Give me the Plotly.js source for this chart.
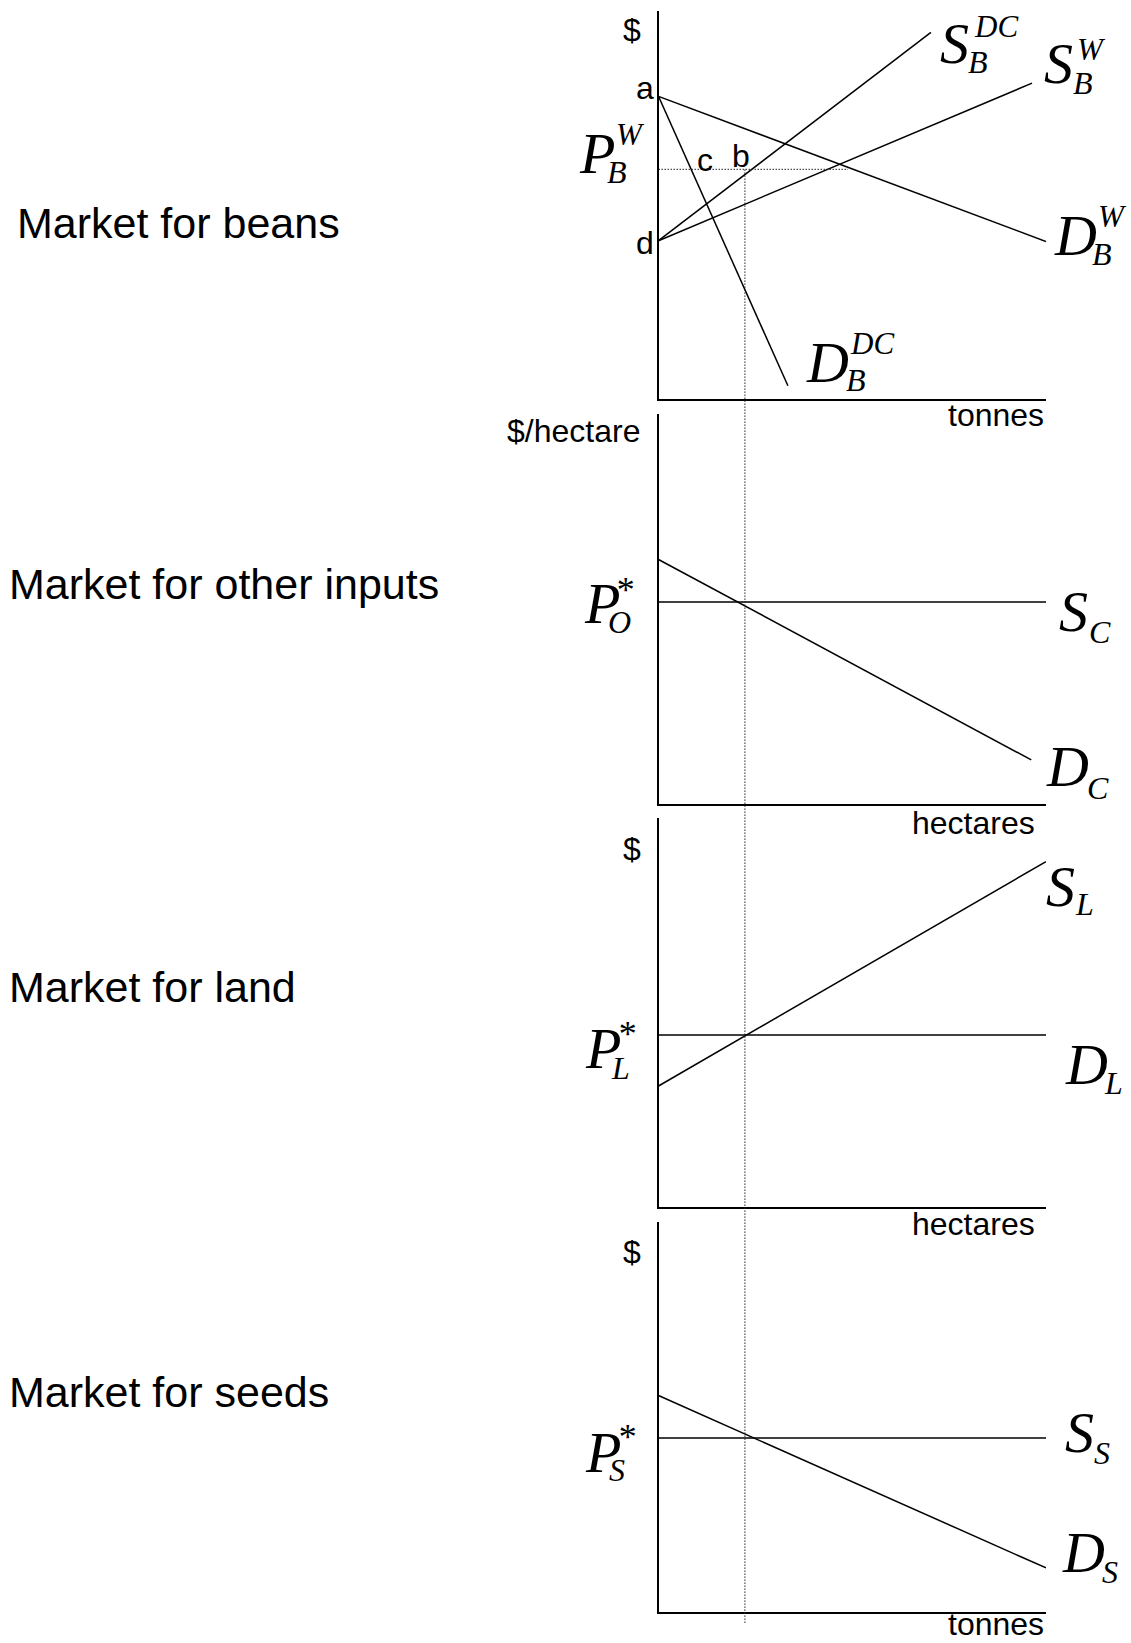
<!DOCTYPE html>
<html>
<head>
<meta charset="utf-8">
<script src="https://cdn.plot.ly/plotly-3.0.1.min.js"></script>
<style>html,body{margin:0;padding:0;background:#fff;}</style>
</head>
<body>
<div id="chart" style="width:1131px;height:1643px;"></div>
<script>
// ---------------- DATA (axis units 0..100 in each panel) ----------------
// Panel 1: market for beans
const beansDW_x  = [0, 100];   const beansDW_y  = [78, 40.6];   // D_B^W
const beansDDC_x = [0, 33.4];  const beansDDC_y = [78, 3.4];    // D_B^DC
const beansSDC_x = [0, 70.3];  const beansSDC_y = [40.8, 94.5]; // S_B^DC
const beansSW_x  = [0, 96.4];  const beansSW_y  = [40.8, 81.4]; // S_B^W
const priceBW = 59.2;          // P_B^W
const priceBW_x = [0, 48.9];   // extent of dotted price line
const qStar = 22.3;            // common quantity (dotted vertical)
// Panel 2: market for other inputs
const otherS_x = [0, 100];     const otherS_y = [51.8, 51.8];   // S_C
const otherD_x = [0, 96.2];    const otherD_y = [62.7, 11.3];   // D_C
// Panel 3: market for land
const landD_x = [0, 100];      const landD_y = [44.2, 44.2];    // D_L
const landS_x = [0, 100];      const landS_y = [31.1, 88.8];    // S_L
// Panel 4: market for seeds
const seedS_x = [0, 100];      const seedS_y = [44.6, 44.6];    // S_S
const seedD_x = [0, 100];      const seedD_y = [55.5, 11.3];    // D_S

const panelTitles = ["Market for beans", "Market for other inputs", "Market for land", "Market for seeds"];
const yTitles = ["$", "$/hectare", "$", "$"];
const xTitles = ["tonnes", "hectares", "hectares", "tonnes"];

// ---------------- LAYOUT ----------------
const W = 1131, H = 1643;
const px = v => v / W;
const py = v => 1 - v / H;
const SANS = "Liberation Sans, Arial, sans-serif";
const SERIF = "Liberation Serif, Times New Roman, serif";
const BIG = 58, SUP = 31, SUB = 32, STAR = 36, LBL = 32, TITLE = 43;

function axX(anchor) {
  return {domain: [px(658.5), px(1046)], range: [0, 100], anchor: anchor,
    showline: true, linecolor: '#000', linewidth: 2, showgrid: false, zeroline: false,
    showticklabels: false, ticks: '', fixedrange: true};
}
function axY(anchor, top, bottom) {
  return {domain: [py(bottom), py(top)], range: [0, 100], anchor: anchor,
    showline: true, linecolor: '#000', linewidth: 2, showgrid: false, zeroline: false,
    showticklabels: false, ticks: '', fixedrange: true};
}

const layout = {
  width: W, height: H, margin: {l: 0, r: 0, t: 0, b: 0},
  paper_bgcolor: '#fff', plot_bgcolor: 'rgba(0,0,0,0)', showlegend: false,
  xaxis: axX('y'),   yaxis: axY('x', 11, 399),
  xaxis2: axX('y2'), yaxis2: axY('x2', 414, 804),
  xaxis3: axX('y3'), yaxis3: axY('x3', 818, 1207),
  xaxis4: axX('y4'), yaxis4: axY('x4', 1222, 1612),
  annotations: [], shapes: []
};

function toPaperY(ax, v) {
  return ax.domain[0] + (v - ax.range[0]) / (ax.range[1] - ax.range[0]) * (ax.domain[1] - ax.domain[0]);
}

// dotted vertical through all four panels
layout.shapes.push({type: 'line', xref: 'x', yref: 'paper', x0: qStar, x1: qStar,
  y0: toPaperY(layout.yaxis4, -2.8), y1: toPaperY(layout.yaxis, priceBW),
  line: {color: '#222', width: 1, dash: '1.5px,1.5px'}});

// ---------------- TRACES ----------------
const solid = {color: '#000', width: 1.5};
function line(x, y, xa, ya, ln) {
  return {type: 'scatter', mode: 'lines', x: x, y: y, xaxis: xa, yaxis: ya,
    line: ln || solid, hoverinfo: 'skip', cliponaxis: false};
}
const traces = [
  line(beansDW_x, beansDW_y, 'x', 'y'),
  line(beansDDC_x, beansDDC_y, 'x', 'y'),
  line(beansSDC_x, beansSDC_y, 'x', 'y'),
  line(beansSW_x, beansSW_y, 'x', 'y'),
  line(priceBW_x, [priceBW, priceBW], 'x', 'y', {color: '#222', width: 1, dash: '1.5px,1.5px'}),
  line(otherS_x, otherS_y, 'x2', 'y2'),
  line(otherD_x, otherD_y, 'x2', 'y2'),
  line(landD_x, landD_y, 'x3', 'y3'),
  line(landS_x, landS_y, 'x3', 'y3'),
  line(seedS_x, seedS_y, 'x4', 'y4'),
  line(seedD_x, seedD_y, 'x4', 'y4')
];

// ---------------- ANNOTATIONS ----------------
function txt(text, x, y, size, family, anchor) {
  layout.annotations.push({xref: 'paper', yref: 'paper', x: px(x), y: py(y),
    xanchor: anchor || 'left', yanchor: 'middle', text: text, showarrow: false,
    borderpad: 0, font: {family: family, size: size, color: '#000'}});
}
function it(t) { return '<i>' + t + '</i>'; }

// panel titles (left)
txt(panelTitles[0], 16, 223, TITLE, SANS);
txt(panelTitles[1], 8, 584, TITLE, SANS);
txt(panelTitles[2], 8, 987, TITLE, SANS);
txt(panelTitles[3], 8, 1392, TITLE, SANS);

// axis titles
txt(yTitles[0], 632, 30, LBL, SANS, 'center');
txt(yTitles[1], 641, 431, LBL, SANS, 'right');
txt(yTitles[2], 632, 849, LBL, SANS, 'center');
txt(yTitles[3], 632, 1252, LBL, SANS, 'center');
txt(xTitles[0], 1045, 415, LBL, SANS, 'right');
txt(xTitles[1], 1036, 823, LBL, SANS, 'right');
txt(xTitles[2], 1036, 1224, LBL, SANS, 'right');
txt(xTitles[3], 1045, 1624, LBL, SANS, 'right');

// point letters
txt('a', 645, 88, LBL, SANS, 'center');
txt('d', 645, 243, LBL, SANS, 'center');
txt('c', 705, 160, LBL, SANS, 'center');
txt('b', 741, 156, LBL, SANS, 'center');

// italic curve / price labels: base, superscript, subscript
function sym(base, bx, by, sup, sx, sy, sub, ux, uy) {
  txt(it(base), bx, by, BIG, SERIF);
  if (sup) txt(it(sup), sx, sy, sup === '*' ? STAR : SUP, SERIF);
  if (sub) txt(it(sub), ux, uy, SUB, SERIF);
}
sym('S', 939, 44, 'DC', 973, 27, 'B', 967, 62);     // S_B^DC
sym('S', 1043, 64, 'W', 1076, 50, 'B', 1072, 83);   // S_B^W
sym('P', 578, 153, 'W', 615, 135, 'B', 606, 172);   // P_B^W
sym('D', 1053, 236, 'W', 1097, 216, 'B', 1091, 254);// D_B^W
sym('D', 805, 362, 'DC', 849, 344, 'B', 845, 380);  // D_B^DC

sym('P', 583, 603, '*', 614, 590, 'O', 607, 622);   // P_O^*
sym('S', 1058, 611, null, 0, 0, 'C', 1088, 632);    // S_C
sym('D', 1045, 766, null, 0, 0, 'C', 1086, 788);    // D_C

sym('S', 1045, 886, null, 0, 0, 'L', 1074, 904);    // S_L
sym('D', 1064, 1064, null, 0, 0, 'L', 1103, 1083);  // D_L
sym('P', 584, 1048, '*', 616, 1034, 'L', 610, 1068);// P_L^*

sym('S', 1064, 1432, null, 0, 0, 'S', 1093, 1453);  // S_S
sym('D', 1061, 1552, null, 0, 0, 'S', 1101, 1572);  // D_S
sym('P', 584, 1452, '*', 616, 1437, 'S', 608, 1470);// P_S^*

Plotly.newPlot('chart', traces, layout, {staticPlot: true, displayModeBar: false});
</script>
</body>
</html>
